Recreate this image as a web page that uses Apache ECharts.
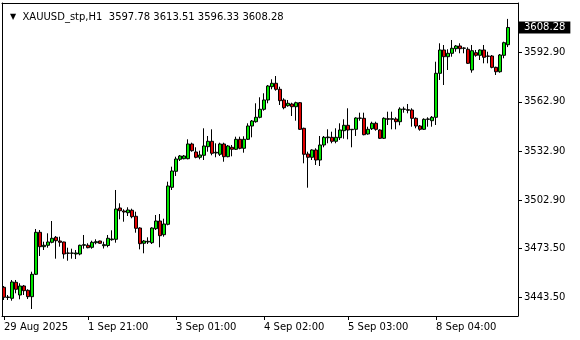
<!DOCTYPE html>
<html><head><meta charset="utf-8">
<script src="https://cdn.jsdelivr.net/npm/echarts@6/dist/echarts.min.js"></script>
<style>html,body{margin:0;padding:0;background:#fff}#c{width:580px;height:340px}</style>
</head><body><div id="c"></div>
<script>
const symbol = 'XAUUSD_stp,H1';
const opens = [3449.85,3443.63,3443.14,3452.90,3445.15,3450.64,3448.02,3444.12,3457.78,3483.38,
3474.60,3475.46,3477.29,3480.34,3478.08,3477.47,3470.76,3470.58,3470.15,3470.15,
3475.46,3475.46,3474.23,3477.04,3478.08,3475.21,3475.34,3478.87,3479.12,3498.20,
3496.37,3495.33,3496.80,3493.14,3486.00,3476.68,3477.47,3477.04,3485.58,3490.27,
3481.92,3488.26,3510.83,3520.58,3527.90,3528.26,3528.26,3537.23,3532.35,3529.12,
3530.34,3535.58,3538.88,3531.74,3530.95,3537.23,3529.49,3535.22,3534.00,3540.09,
3534.61,3540.09,3548.21,3550.83,3553.51,3558.39,3564.06,3572.17,3574.25,3570.58,
3564.06,3560.58,3561.62,3559.97,3562.41,3546.80,3531.13,3529.12,3533.57,3527.47,
3536.62,3541.07,3541.31,3538.88,3541.07,3545.34,3548.63,3546.19,3546.19,3552.90,
3552.90,3543.33,3546.56,3549.85,3545.77,3540.70,3552.66,3552.29,3552.48,3550.83,
3558.39,3558.15,3557.96,3552.90,3548.21,3546.19,3552.29,3551.44,3553.51,3580.34,
3594.55,3590.46,3592.54,3595.34,3596.99,3595.59,3594.98,3582.35,3592.90,3591.31,
3594.55,3590.89,3590.89,3583.98,3581.30,3591.31,3597.78];
const closes = [3443.75,3443.93,3453.08,3448.63,3450.64,3447.77,3444.12,3457.78,3483.38,3474.60,
3475.46,3477.47,3479.73,3478.26,3477.29,3470.15,3470.58,3470.76,3470.76,3475.46,
3475.83,3473.99,3477.29,3477.65,3476.68,3475.83,3479.73,3479.30,3497.59,3496.55,
3495.76,3496.98,3492.90,3485.82,3476.44,3478.08,3477.90,3486.00,3490.27,3481.31,
3488.45,3511.62,3520.76,3528.08,3529.91,3529.91,3537.23,3533.14,3529.12,3530.52,
3536.01,3538.88,3531.56,3532.17,3537.23,3529.49,3536.01,3534.00,3540.09,3534.61,
3540.09,3548.21,3551.25,3553.51,3558.39,3564.06,3572.60,3574.25,3570.58,3563.63,
3559.37,3562.05,3559.97,3562.41,3546.19,3530.95,3529.12,3533.57,3527.47,3536.62,
3541.31,3541.50,3538.88,3541.31,3545.77,3548.63,3545.77,3545.95,3553.08,3553.08,
3542.90,3546.19,3549.85,3546.19,3540.70,3552.90,3552.29,3552.66,3550.83,3558.57,
3558.57,3557.78,3552.90,3548.21,3546.19,3552.29,3552.48,3553.51,3580.34,3594.55,
3590.46,3592.54,3595.59,3596.99,3595.34,3595.77,3586.44,3594.12,3591.31,3594.55,
3590.10,3590.71,3583.98,3581.30,3591.50,3599.00,3608.28];
const highs = [3450.64,3445.15,3454.30,3454.30,3452.29,3451.25,3448.63,3459.36,3485.40,3484.79,
3477.65,3482.77,3490.27,3481.13,3480.70,3477.65,3473.99,3473.38,3472.59,3475.83,
3481.74,3476.68,3478.26,3479.12,3478.26,3477.65,3481.74,3484.61,3509.18,3501.07,
3497.41,3498.63,3497.78,3495.95,3486.43,3478.69,3480.34,3486.43,3493.93,3494.54,
3491.68,3514.24,3523.39,3529.48,3530.52,3530.52,3540.09,3538.02,3535.22,3533.14,
3546.80,3542.11,3546.19,3537.66,3538.02,3538.02,3536.62,3536.62,3541.68,3541.68,
3541.93,3549.85,3551.86,3562.05,3565.71,3568.15,3573.21,3576.68,3578.69,3572.17,
3565.10,3564.06,3562.41,3563.02,3562.84,3547.17,3532.53,3534.00,3534.61,3542.11,
3542.11,3546.19,3544.73,3546.80,3549.85,3552.29,3559.00,3546.38,3553.51,3556.32,
3556.32,3547.78,3550.83,3550.83,3546.19,3553.51,3556.93,3556.93,3553.51,3559.61,
3559.97,3561.62,3559.00,3553.51,3548.81,3552.90,3553.51,3554.30,3587.41,3598.64,
3597.60,3594.98,3600.65,3597.60,3598.64,3596.20,3596.20,3597.60,3594.55,3594.98,
3597.60,3593.51,3591.50,3584.37,3592.11,3599.61,3613.51];
const lows = [3442.10,3442.10,3441.67,3446.19,3442.53,3445.15,3442.71,3436.61,3457.35,3468.93,
3472.59,3473.99,3476.68,3467.29,3474.60,3467.29,3466.06,3467.29,3467.10,3469.36,
3473.38,3473.62,3473.38,3476.07,3476.44,3473.50,3474.23,3478.26,3477.04,3491.31,
3489.85,3493.32,3491.92,3483.14,3472.97,3470.58,3476.25,3476.25,3484.79,3474.23,
3480.70,3487.65,3509.18,3517.72,3526.86,3527.90,3527.90,3532.53,3528.51,3527.90,
3527.47,3532.53,3530.34,3529.12,3529.91,3526.43,3529.12,3529.73,3533.57,3534.00,
3531.92,3539.67,3541.31,3550.22,3552.90,3557.53,3562.05,3570.58,3569.73,3561.01,
3558.39,3559.97,3554.30,3551.44,3545.77,3525.46,3510.58,3527.47,3524.42,3523.81,
3535.22,3537.66,3537.66,3537.66,3539.67,3540.46,3540.09,3535.22,3542.11,3551.44,
3542.53,3542.90,3545.77,3545.34,3540.28,3540.28,3548.81,3546.19,3546.19,3548.63,
3556.32,3555.95,3547.78,3546.80,3545.34,3545.77,3547.78,3547.78,3548.81,3576.26,
3573.21,3582.35,3590.46,3593.51,3592.54,3592.54,3586.01,3580.71,3590.46,3588.45,
3586.44,3586.44,3583.39,3579.31,3580.71,3589.49,3596.33];
const xTickIndex = [0, 21, 43, 65, 86, 108];
const xTickLabels = ['29 Aug 2025', '1 Sep 21:00', '3 Sep 01:00', '4 Sep 02:00', '5 Sep 03:00', '8 Sep 04:00'];
const yTickValues = [3592.90, 3562.90, 3532.90, 3502.90, 3473.50, 3443.50];
const yMin = 3432.34, yMax = 3623.21;

const FONT = 'DejaVu Sans';
const emptySlots = 2;
const cats = Array.from({length: opens.length + emptySlots}, (_, i) => String(i));
const candles = opens.map((o, i) => [o, closes[i], lows[i], highs[i]]);
const last = opens.length - 1;
const showTick = (idx) => xTickIndex.indexOf(idx) >= 0;
const frameAxis = {show: true, axisLine: {show: true, lineStyle: {color: '#000', width: 1}},
  axisTick: {show: false}, axisLabel: {show: false}, splitLine: {show: false}};

const chart = echarts.init(document.getElementById('c'), null, {renderer: 'canvas'});
chart.setOption({
  animation: false,
  backgroundColor: '#fff',
  title: {
    text: '{t|▼}  ' + symbol + '  ' + [opens[last], highs[last], lows[last], closes[last]].map(v => v.toFixed(2)).join(' '),
    left: 5, top: 7,
    textStyle: {fontSize: 10, fontWeight: 'normal', fontFamily: FONT, color: '#000',
      rich: {t: {fontSize: 8, fontFamily: FONT, color: '#000'}}}
  },
  grid: {left: 2, right: 62, top: 3, bottom: 24, show: false},
  xAxis: [{
    type: 'category', data: cats, boundaryGap: true,
    axisLine: {show: true, lineStyle: {color: '#000', width: 1}},
    axisTick: {show: true, alignWithLabel: true, interval: (i) => showTick(i), length: 4, lineStyle: {color: '#000'}},
    axisLabel: {interval: (i) => showTick(i), formatter: (v, i) => xTickLabels[xTickIndex.indexOf(Number(v))] || '',
      align: 'left', margin: 6, color: '#000', fontSize: 10, fontFamily: FONT},
    splitLine: {show: false}
  }, Object.assign({type: 'category', data: cats, position: 'top'}, frameAxis)],
  yAxis: [{
    type: 'value', position: 'right', min: yMin, max: yMax, scale: true,
    axisLine: {show: true, lineStyle: {color: '#000'}},
    axisTick: {show: true, length: 4, customValues: yTickValues, lineStyle: {color: '#000'}},
    axisLabel: {customValues: yTickValues, formatter: (v) => v.toFixed(2), margin: 6, color: '#000', fontSize: 10, fontFamily: FONT},
    splitLine: {show: false}
  }, Object.assign({type: 'value', position: 'left', min: yMin, max: yMax}, frameAxis)],
  series: [{
    type: 'candlestick',
    data: candles,
    barWidth: 3,
    itemStyle: {color: '#00e600', color0: '#e00000', borderColor: '#000', borderColor0: '#000', borderWidth: 1},
    markLine: {
      silent: true, symbol: 'none', animation: false,
      lineStyle: {color: 'rgba(0,0,0,0)', width: 1, type: 'solid'},
      data: [{yAxis: closes[last]}],
      label: {show: true, position: 'end', distance: 1, formatter: closes[last].toFixed(2),
        backgroundColor: '#000', color: '#fff', padding: [1, 5, 1, 5], fontSize: 10, fontFamily: FONT}
    }
  }]
});
</script></body></html>
